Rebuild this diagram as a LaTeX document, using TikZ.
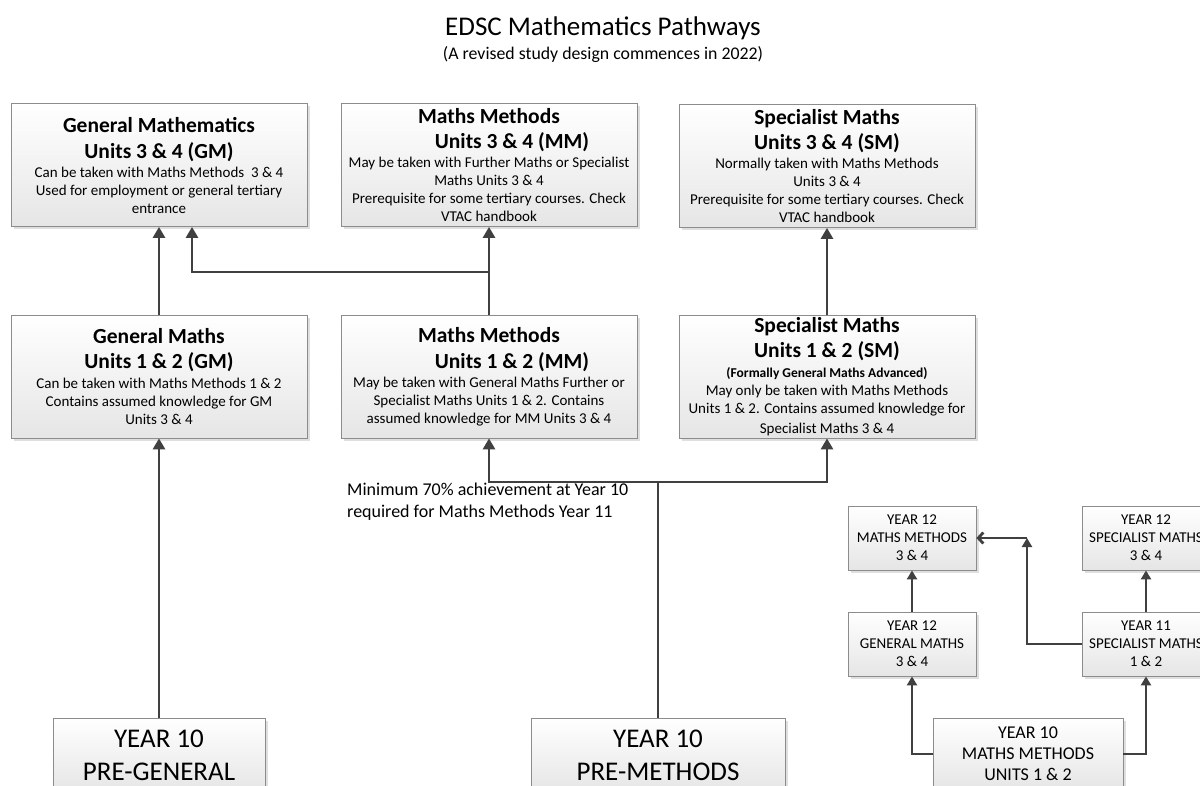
\documentclass[tikz,border=0pt]{standalone}
\usepackage{fontspec}
\setmainfont{Carlito}
\usetikzlibrary{arrows.meta,shadows}
\definecolor{ln}{HTML}{404040}
\definecolor{bd}{HTML}{8C8C8C}
\newcommand\hdf{\fontsize{21.5}{25}\selectfont\bfseries}
\newcommand\setfnt[2]{\fontsize{#1}{#2}\selectfont\lineskiplimit-100pt\relax}
\newcommand\bodyf{\setfnt{15}{18}}
\newcommand\bigf{\setfnt{27}{33}}
\newcommand\notef{\setfnt{18}{22}}
\newcommand\midf{\setfnt{18}{21}}
\begin{document}
\begin{tikzpicture}[x=1pt,y=-1pt,
  box/.style={draw=bd, line width=0.8pt, top color=white, bottom color=gray!20,
    drop shadow={shadow xshift=2.5pt,shadow yshift=-2.5pt,opacity=0.25},
    align=center, inner sep=0pt, font=\bodyf},
  bigbox/.style={box, minimum width=296pt, minimum height=123pt},
  smallbox/.style={box, minimum width=128pt, minimum height=64pt},
  conn/.style={draw=ln, line width=2.8pt},
  arr/.style={conn, -{Triangle[width=12pt,length=11pt]}},
  sarr/.style={conn, -{Triangle[width=10pt,length=9pt]}},
  barb/.style={conn, -{Straight Barb[width=11pt,length=5pt]}},
  txt/.style={inner sep=0pt, align=center}]
\clip (0,0) rectangle (1200,785);
\fill[white] (0,0) rectangle (1200,785);

\node[txt, font=\fontsize{27}{30}\selectfont] (title) at (603,28) {EDSC Mathematics Pathways};
\node[txt, font=\fontsize{17.8}{20}\selectfont] (sub) at (603,55) {(A revised study design commences in 2022)};

\node[bigbox] (gm34) at (159,165) {{\hdf General Mathematics}\\[8pt]{\hdf Units 3 \& 4 (GM)}\\[1pt]Can be taken with Maths Methods\ \ 3 \& 4\\Used for employment or general tertiary\\entrance};
\node[bigbox] (mm34) at (489,165) {{\hdf Maths Methods}\\[7.5pt]{\hdf\hspace*{46pt}Units 3 \& 4 (MM)}\\[1pt]May be taken with Further Maths or Specialist\\Maths Units 3 \& 4\\Prerequisite for some tertiary courses. Check\\VTAC handbook};
\node[bigbox] (sm34) at (827,166) {{\hdf Specialist Maths}\\[7.5pt]{\hdf Units 3 \& 4 (SM)}\\[1pt]Normally taken with Maths Methods\\Units 3 \& 4\\Prerequisite for some tertiary courses. Check\\VTAC handbook};

\node[bigbox] (gm12) at (159,376.5) {{\hdf General Maths}\\[7.5pt]{\hdf Units 1 \& 2 (GM)}\\[1.5pt]Can be taken with Maths Methods 1 \& 2\\Contains assumed knowledge for GM\\Units 3 \& 4};
\node[bigbox] (mm12) at (489,376.5) {{\hdf Maths Methods}\\[7.5pt]{\hdf\hspace*{46pt}Units 1 \& 2 (MM)}\\[1pt]May be taken with General Maths Further or\\Specialist Maths Units 1 \& 2. Contains\\assumed knowledge for MM Units 3 \& 4};
\node[bigbox] (sm12) at (827,376.5) {{\hdf Specialist Maths}\\[7.5pt]{\hdf Units 1 \& 2 (SM)}\\[2pt]{\fontsize{13.5}{18}\selectfont\bfseries (Formally General Maths Advanced)}\\May only be taken with Maths Methods\\Units 1 \& 2. Contains assumed knowledge for\\[2pt]Specialist Maths 3 \& 4};

\node[box, minimum width=212pt, minimum height=74pt, font=\bigf] (pg) at (159,755) {YEAR 10\\PRE-GENERAL};
\node[box, minimum width=254pt, minimum height=74pt, font=\bigf] (pm) at (658,755) {YEAR 10\\PRE-METHODS};

\node[txt, anchor=west, align=left, font=\notef] (note) at (347,502) {Minimum 70\% achievement at Year 10\\required for Maths Methods Year 11};

% small diagram
\node[smallbox] (y12mm) at (912,538) {YEAR 12\\MATHS METHODS\\3 \& 4};
\node[smallbox] (y12sm) at (1146,538) {YEAR 12\\SPECIALIST MATHS\\3 \& 4};
\node[smallbox] (y12gm) at (912,644) {YEAR 12\\GENERAL MATHS\\3 \& 4};
\node[smallbox] (y11sm) at (1146,644) {YEAR 11\\SPECIALIST MATHS\\1 \& 2};
\node[box, minimum width=190pt, minimum height=72pt, font=\midf] (y10mm) at (1028,754) {YEAR 10\\MATHS METHODS\\UNITS 1 \& 2};

% main connectors
\draw[arr] (gm12.north) -- (gm34.south);
\coordinate (j1) at (489,272);
\draw[conn] (mm12.north) -- (j1);
\draw[arr] (j1) -- (mm34.south);
\draw[arr] (j1) -| ([xshift=33pt]gm34.south);
\draw[arr] (sm12.north) -- (sm34.south);
\draw[arr] (pg.north) -- (gm12.south);
\coordinate (j2) at (658,482);
\draw[conn] (pm.north) -- (j2);
\draw[arr] (j2) -| (mm12.south);
\draw[arr] (j2) -| (sm12.south);

% small connectors
\draw[sarr] (y12gm.north) -- (y12mm.south);
\draw[sarr] (y11sm.north) -- (y12sm.south);
\coordinate (c1) at (1027,538);
\draw[sarr] (y11sm.west) -| (c1);
\draw[barb] (c1) -- (y12mm.east);
\draw[sarr] (y10mm.west) -| (y12gm.south);
\draw[sarr] (y10mm.east) -| (y11sm.south);
\end{tikzpicture}
\end{document}
